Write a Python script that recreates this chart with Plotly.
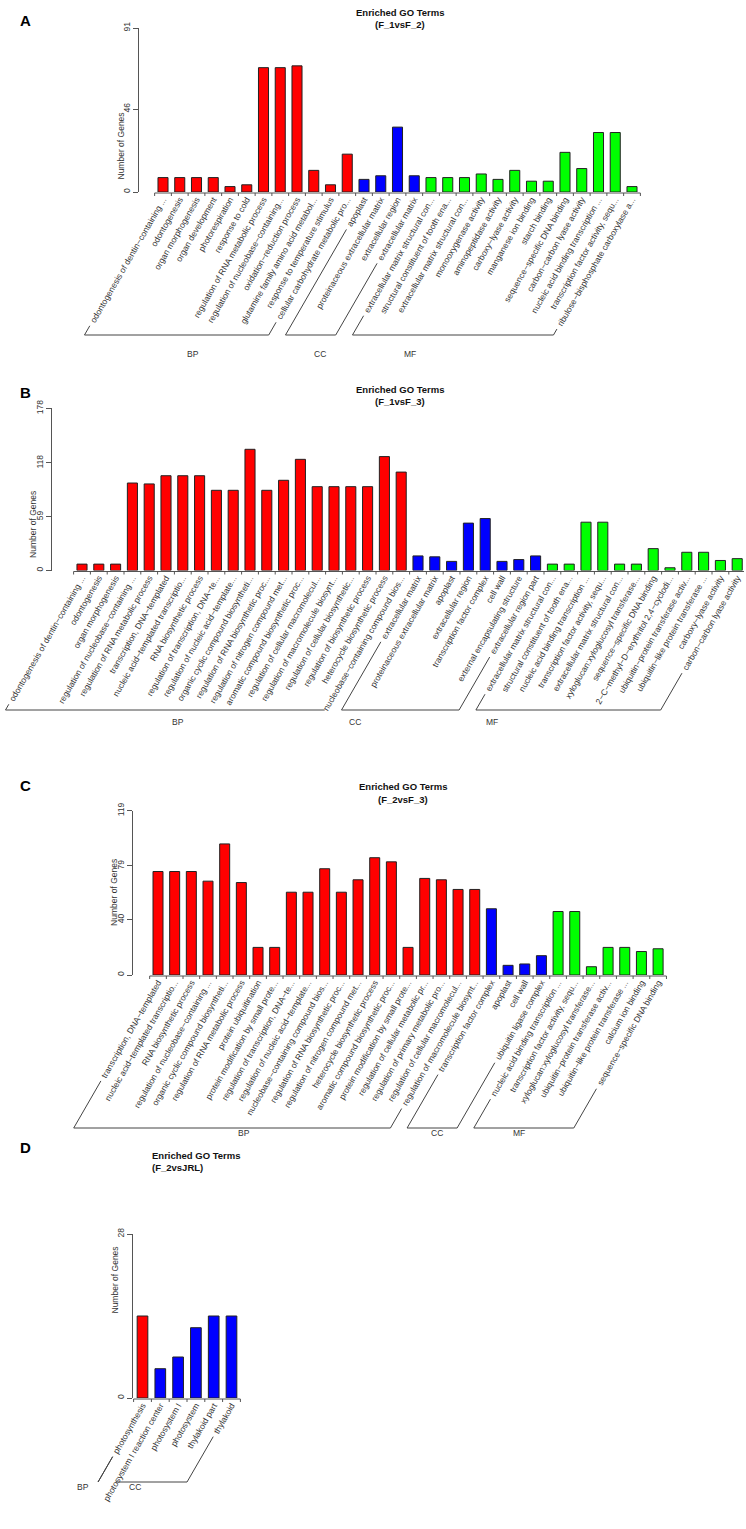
import plotly.graph_objects as go
import math

W, H = 746, 1529

# ---------------- data ----------------
A_terms = [
    "odontogenesis of dentin−containing ...", "odontogenesis", "organ morphogenesis",
    "organ development", "photorespiration", "response to cold",
    "regulation of RNA metabolic process", "regulation of nucleobase−containing...",
    "oxidation−reduction process", "glutamine family amino acid metabol...",
    "response to temperature stimulus", "cellular carbohydrate metabolic pro...",
    "apoplast", "proteinaceous extracellular matrix", "extracellular region",
    "extracellular matrix",
    "extracellular matrix structural con...", "structural constituent of tooth ena...",
    "extracellular matrix structural con...", "monooxygenase activity",
    "aminopeptidase activity", "carboxy−lyase activity", "manganese ion binding",
    "starch binding", "sequence−specific DNA binding", "carbon−carbon lyase activity",
    "nucleic acid binding transcription ...", "transcription factor activity, sequ...",
    "ribulose−bisphosphate carboxylase a..."]
A_counts = [8, 8, 8, 8, 3, 4, 69, 69, 70, 12, 4, 21,
            7, 9, 36, 9,
            8, 8, 8, 10, 7, 12, 6, 6, 22, 13, 33, 33, 3]
A_groups = ["BP"] * 12 + ["CC"] * 4 + ["MF"] * 13
A_yticks = [0, 46, 91]

B_terms = [
    "odontogenesis of dentin−containing ...", "odontogenesis", "organ morphogenesis",
    "regulation of nucleobase−containing ...", "regulation of RNA metabolic process",
    "transcription, DNA−templated", "nucleic acid−templated transcriptio...",
    "RNA biosynthetic process", "regulation of transcription, DNA−te...",
    "regulation of nucleic acid−template...", "organic cyclic compound biosyntheti...",
    "regulation of RNA biosynthetic proc...", "regulation of nitrogen compound met...",
    "aromatic compound biosynthetic proc...", "regulation of cellular macromolecul...",
    "regulation of macromolecule biosynt...", "regulation of cellular biosynthetic...",
    "regulation of biosynthetic process", "heterocycle biosynthetic process",
    "nucleobase−containing compound bios...",
    "extracellular matrix", "proteinaceous extracellular matrix", "apoplast",
    "extracellular region", "transcription factor complex", "cell wall",
    "external encapsulating structure", "extracellular region part",
    "extracellular matrix structural con...", "structural constituent of tooth ena...",
    "nucleic acid binding transcription ...", "transcription factor activity, sequ...",
    "extracellular matrix structural con...", "xyloglucan:xyloglucosyl transferase...",
    "sequence−specific DNA binding", "2−C−methyl−D−erythritol 2,4−cyclodi...",
    "ubiquitin−protein transferase activ...", "ubiquitin−like protein transferase ...",
    "carboxy−lyase activity", "carbon−carbon lyase activity"]
B_counts = [7, 7, 7, 96, 95, 104, 104, 104, 88, 88, 133, 88, 99, 122, 92, 92, 92, 92, 125, 108,
            16, 15, 10, 52, 57, 10, 12, 16,
            7, 7, 53, 53, 7, 7, 24, 3, 20, 20, 11, 13]
B_groups = ["BP"] * 20 + ["CC"] * 8 + ["MF"] * 12
B_yticks = [0, 59, 118, 178]

C_terms = [
    "transcription, DNA−templated", "nucleic acid−templated transcriptio...",
    "RNA biosynthetic process", "regulation of nucleobase−containing ...",
    "organic cyclic compound biosyntheti...", "regulation of RNA metabolic process",
    "protein ubiquitination", "protein modification by small prote...",
    "regulation of transcription, DNA−te...", "regulation of nucleic acid−template...",
    "nucleobase−containing compound bios...", "regulation of RNA biosynthetic proc...",
    "regulation of nitrogen compound met...", "heterocycle biosynthetic process",
    "aromatic compound biosynthetic proc...", "protein modification by small prote...",
    "regulation of cellular metabolic pr...", "regulation of primary metabolic pro...",
    "regulation of cellular macromolecul...", "regulation of macromolecule biosynt...",
    "transcription factor complex", "apoplast", "cell wall", "ubiquitin ligase complex",
    "nucleic acid binding transcription ...", "transcription factor activity, sequ...",
    "xyloglucan:xyloglucosyl transferase...", "ubiquitin−protein transferase activ...",
    "ubiquitin−like protein transferase ...", "calcium ion binding",
    "sequence−specific DNA binding"]
C_counts = [75, 75, 75, 68, 95, 67, 20, 20, 60, 60, 77, 60, 69, 85, 82, 20, 70, 69, 62, 62,
            48, 7, 8, 14,
            46, 46, 6, 20, 20, 17, 19]
C_groups = ["BP"] * 20 + ["CC"] * 4 + ["MF"] * 7
C_yticks = [0, 40, 79, 119]

D_terms = ["photosynthesis", "photosystem I reaction center", "photosystem I",
           "photosystem", "thylakoid part", "thylakoid"]
D_counts = [14, 5, 7, 12, 14, 14]
D_groups = ["BP", "CC", "CC", "CC", "CC", "CC"]
D_yticks = [0, 28]

GROUP_COLORS = {"BP": "#FF0000", "CC": "#0000FF", "MF": "#00FF00"}

# ---------------- layout (pixel geometry) ----------------
panels = [
    dict(letter="A", name="(F_1vsF_2)", terms=A_terms, counts=A_counts, groups=A_groups,
         yticks=A_yticks, ax=139, y0=192, ytop=28, first=163, pitch=16.75,
         tx=400, ty=5, ly=(18, 10), yb=335, glx={"BP": 185, "CC": 320, "MF": 410}),
    dict(letter="B", name="(F_1vsF_3)", terms=B_terms, counts=B_counts, groups=B_groups,
         yticks=B_yticks, ax=52, y0=570.5, ytop=408.3, first=82, pitch=16.8,
         tx=400, ty=382, ly=(18, 382), yb=710, glx={"BP": 170, "CC": 355, "MF": 500}),
    dict(letter="C", name="(F_2vsF_3)", terms=C_terms, counts=C_counts, groups=C_groups,
         yticks=C_yticks, ax=133, y0=975, ytop=810.8, first=158, pitch=16.67,
         tx=403, ty=787, ly=(18, 785), yb=1128, glx={"BP": 236, "CC": 437, "MF": 527}),
    dict(letter="D", name="(F_2vsJRL)", terms=D_terms, counts=D_counts, groups=D_groups,
         yticks=D_yticks, ax=133, y0=1398, ytop=1234, first=142.5, pitch=17.8,
         tx=150, ty=1163, ly=(18, 1158), yb=1482, glx={"BP": 75, "CC": 127}),
]

FS = 8.5
FONT = "Liberation Sans, Arial, sans-serif"

AW = {' ': 278, '!': 278, ',': 278, '-': 333, '.': 278, ':': 278, '(': 333, ')': 333,
      '−': 584, '_': 556}
for c in "0123456789":
    AW[c] = 556
AW.update(dict(zip("ABCDEFGHIJKLMNOPQRSTUVWXYZ",
                   [667, 667, 722, 722, 667, 611, 778, 722, 278, 500, 667, 556, 833, 722, 778,
                    667, 778, 722, 667, 611, 722, 667, 944, 667, 667, 611])))
AW.update(dict(zip("abcdefghijklmnopqrstuvwxyz",
                   [556, 556, 500, 556, 556, 278, 556, 556, 222, 222, 500, 222, 833, 556, 556,
                    556, 556, 333, 500, 278, 556, 500, 722, 500, 500, 500])))


def text_w(s, fs=FS):
    return sum(AW.get(c, 556) for c in s) / 1000.0 * fs


def px(x):
    return x / W


def py(y):
    return 1 - y / H


fig = go.Figure()
shapes = []
annotations = []
COS, SIN = math.cos(math.radians(60)), math.sin(math.radians(60))
TAN = math.tan(math.radians(60))
RIGHT = 744

for k, p in enumerate(panels):
    idx = "" if k == 0 else str(k + 1)
    n = len(p["terms"])
    xs = list(range(n))
    xr0 = (p["ax"] - p["first"]) / p["pitch"]
    xr1 = (RIGHT - p["first"]) / p["pitch"]
    fig.add_trace(go.Bar(
        x=xs, y=p["counts"], width=0.6,
        marker=dict(color=[GROUP_COLORS[g] for g in p["groups"]],
                    line=dict(color="#222222", width=1)),
        xaxis="x" + idx, yaxis="y" + idx, showlegend=False, hoverinfo="x+y"))
    fig.layout["xaxis" + idx] = dict(
        domain=[px(p["ax"]), px(RIGHT)], range=[xr0, xr1], anchor="y" + idx,
        tickvals=xs, ticktext=p["terms"], tickangle=-60, ticks="",
        tickfont=dict(size=FS, color="#333333", family=FONT), automargin=False,
        showgrid=False, zeroline=False, showline=False, fixedrange=True)
    fig.layout["yaxis" + idx] = dict(
        domain=[py(p["y0"]), py(p["ytop"])], range=[0, p["yticks"][-1]],
        anchor="x" + idx, tickvals=p["yticks"], ticktext=[str(v) for v in p["yticks"]],
        tickangle=-90, ticks="outside", ticklen=5, tickcolor="#555555",
        tickfont=dict(size=FS, color="#333333", family=FONT), automargin=False,
        showline=True, linecolor="#555555", linewidth=1,
        showgrid=False, zeroline=False, fixedrange=True)
    # x baseline + boundary ticks
    shapes.append(dict(type="line", xref="x" + idx, yref="paper",
                       x0=-0.5, x1=n - 0.5, y0=py(p["y0"] + 1), y1=py(p["y0"] + 1),
                       line=dict(color="#555555", width=1)))
    for b in range(n + 1):
        shapes.append(dict(type="line", xref="x" + idx, yref="paper",
                           x0=b - 0.5, x1=b - 0.5, y0=py(p["y0"] + 1), y1=py(p["y0"] + 4),
                           line=dict(color="#555555", width=1)))
    # y-axis title
    annotations.append(dict(text="Number of Genes", textangle=-90, xref="paper", yref="paper",
                            x=px(p["ax"] - 26), y=py((p["y0"] + p["ytop"]) / 2),
                            showarrow=False, font=dict(size=FS, color="#333333", family=FONT)))
    # titles
    annotations.append(dict(text="<b>Enriched GO Terms</b>", xref="paper", yref="paper",
                            x=px(p["tx"]), y=py(p["ty"]), showarrow=False,
                            font=dict(size=9.5, color="#111111", family=FONT)))
    annotations.append(dict(text="<b>" + p["name"] + "</b>", xref="paper", yref="paper",
                            x=px(p["tx"]), y=py(p["ty"] + 12), showarrow=False,
                            font=dict(size=9.5, color="#111111", family=FONT)))
    # panel letter
    annotations.append(dict(text="<b>" + p["letter"] + "</b>", xref="paper", yref="paper",
                            x=px(p["ly"][0]), y=py(p["ly"][1]), showarrow=False,
                            font=dict(size=15, color="#000000", family=FONT)))
    # group brackets: baseline ends lie on the 60-degree label lines
    yend = p["y0"] + 7
    yb = p["yb"]
    order = []
    for g in p["groups"]:
        if g not in order:
            order.append(g)
    for g in order:
        ids = [i for i, gg in enumerate(p["groups"]) if gg == g]
        f, l = ids[0], ids[-1]
        pts = []
        for i in (f, l):
            xc = p["first"] + i * p["pitch"]
            L = text_w(p["terms"][i]) + 3
            sx, sy = xc - L * COS, yend + L * SIN
            bx = xc - (yb - yend) / TAN
            pts.append((sx, sy, bx))
        (s1x, s1y, b1x), (s2x, s2y, b2x) = pts
        for (sx, sy, bx) in pts:
            if sy < yb:
                shapes.append(dict(type="line", xref="paper", yref="paper",
                                   x0=px(sx), y0=py(sy), x1=px(bx), y1=py(yb),
                                   line=dict(color="#444444", width=1)))
        shapes.append(dict(type="line", xref="paper", yref="paper",
                           x0=px(b1x), y0=py(yb), x1=px(b2x), y1=py(yb),
                           line=dict(color="#444444", width=1)))
        annotations.append(dict(text=g, xref="paper", yref="paper",
                                x=px(p["glx"][g]), y=py(yb + 12), showarrow=False,
                                font=dict(size=FS, color="#333333", family=FONT)))

fig.update_layout(width=W, height=H, margin=dict(l=0, r=0, t=0, b=0, autoexpand=False),
                  paper_bgcolor="white", plot_bgcolor="white",
                  shapes=shapes, annotations=annotations, bargap=0.4,
                  font=dict(family=FONT))
fig.write_html("out.html", config={"displayModeBar": False},
               post_script="document.body.style.margin='0';")
